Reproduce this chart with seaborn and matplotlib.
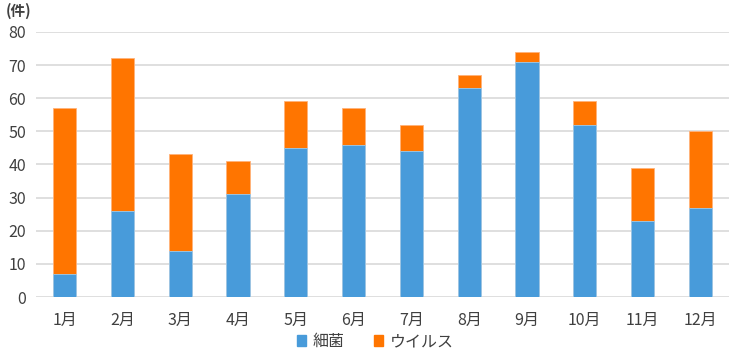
import pandas as pd
import seaborn as sns
import matplotlib.pyplot as plt
from matplotlib.patches import Patch

months = ["1月", "2月", "3月", "4月", "5月", "6月", "7月", "8月", "9月", "10月", "11月", "12月"]
bacteria = [7, 26, 14, 31, 45, 46, 44, 63, 71, 52, 23, 27]
virus = [50, 46, 29, 10, 14, 11, 8, 4, 3, 7, 16, 23]

BLUE = "#489BDA"
ORANGE = "#FF7500"

df = pd.DataFrame({"month": months, "bacteria": bacteria, "virus": virus})
df["total"] = df["bacteria"] + df["virus"]

sns.set_style("white")
plt.rcParams["font.family"] = ["Noto Sans CJK JP", "DejaVu Sans"]

fig = plt.figure(figsize=(7.3, 3.54), dpi=100)
ax = fig.add_axes([0.049, 0.161, 0.950, 0.749])

# total stack drawn first (orange), bacteria drawn over it
sns.barplot(data=df, x="month", y="total", color=ORANGE, width=0.4,
            saturation=1, edgecolor="#FFB27A", linewidth=0.6, ax=ax, zorder=3)
sns.barplot(data=df, x="month", y="bacteria", color=BLUE, width=0.4,
            saturation=1, edgecolor="#9CCBEE", linewidth=0.6, ax=ax, zorder=4)

ax.set_ylim(0, 80)
ax.set_xlim(-0.5, 11.5)
ax.set_yticks(range(0, 81, 10))
ax.yaxis.grid(True, color="#D9D9D9", linewidth=1.2, zorder=0)
ax.set_axisbelow(True)
for s in ax.spines.values():
    s.set_visible(False)
ax.tick_params(axis="both", length=0, labelsize=11.5, colors="#404040")
ax.tick_params(axis="x", pad=11)
ax.tick_params(axis="y", pad=7)
ax.set_xlabel("")
ax.set_ylabel("")

fig.text(0.008, 0.968, "(件)", fontsize=10.5, fontweight="bold", color="#404040", va="center")

handles = [Patch(color=BLUE, label="細菌"), Patch(color=ORANGE, label="ウイルス")]
fig.legend(handles=handles, loc="center", bbox_to_anchor=(0.514, 0.035), ncol=2,
           frameon=False, fontsize=11.5, handlelength=0.6, handleheight=0.6,
           handletextpad=0.4, columnspacing=1.8, labelcolor="#404040")

fig.savefig("out.png", dpi=100)
